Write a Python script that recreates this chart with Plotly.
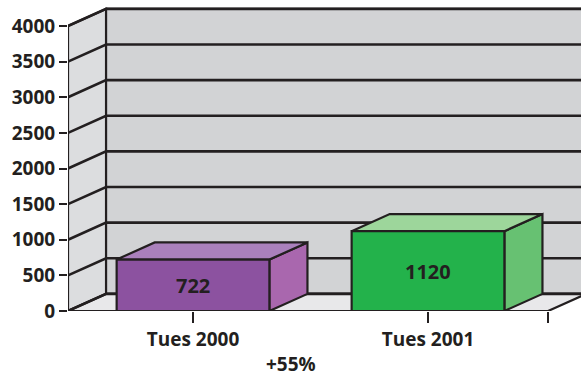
import plotly.graph_objects as go

# --- data ---
categories = ["Tues 2000", "Tues 2001"]
values = [722, 1120]
value_labels = ["722", "1120"]
y_ticks = [0, 500, 1000, 1500, 2000, 2500, 3000, 3500, 4000]
growth_label = "+55%"

# --- styling / geometry ---
INK = "#231f20"
FONT = "Open Sans"
face_colors = [
    {"front": "#8c52a0", "top": "#aa80bc", "side": "#a967ae"},
    {"front": "#23b24b", "top": "#9dd69b", "side": "#67c172"},
]
WALL_LEFT = "#dcdddf"
WALL_BACK = "#d2d3d5"
FLOOR = "#e8e8ea"

W, H = 581, 379
ML, MR, MT, MB = 68, 0, 0, 68
X_LEFT, X_RIGHT = -0.532, 1.511      # front floor edge, in category units
X_RANGE = [X_LEFT, 1.651]
Y_RANGE = [0, 4365]
Y_MAX = y_ticks[-1]
DX, DY = 0.162, 240                  # perspective depth offset (x units, value units)
BAR_W = 0.65

fig = go.Figure()


def poly(xs, ys, fill=None, width=2.2):
    fig.add_trace(go.Scatter(
        x=xs, y=ys, mode="lines",
        fill="toself" if fill else None,
        fillcolor=fill,
        line=dict(color=INK, width=width),
        hoverinfo="skip", showlegend=False,
    ))


# walls and floor
poly([X_LEFT, X_LEFT, X_LEFT + DX, X_LEFT + DX, X_LEFT],
     [0, Y_MAX, Y_MAX + DY, DY, 0], WALL_LEFT)
poly([X_LEFT + DX, X_RIGHT + DX, X_RIGHT + DX, X_LEFT + DX, X_LEFT + DX],
     [DY, DY, Y_MAX + DY, Y_MAX + DY, DY], WALL_BACK)
poly([X_LEFT, X_RIGHT, X_RIGHT + DX, X_LEFT + DX, X_LEFT],
     [0, 0, DY, DY, 0], FLOOR)

# gridlines running across the side wall and the back wall
for v in y_ticks:
    poly([X_LEFT, X_LEFT + DX, X_RIGHT + DX], [v, v + DY, v + DY], width=2.6)

# bars as boxes: side, top, then front face
for i, (v, c) in enumerate(zip(values, face_colors)):
    x0, x1 = i - BAR_W / 2, i + BAR_W / 2
    poly([x1, x1 + DX, x1 + DX, x1, x1], [0, DY, v + DY, v, 0], c["side"])
    poly([x0, x1, x1 + DX, x0 + DX, x0], [v, v, v + DY, v + DY, v], c["top"])
    poly([x0, x1, x1, x0, x0], [0, 0, v, v, 0], c["front"])
    fig.add_annotation(x=i, y=v / 2, text=value_labels[i], showarrow=False,
                       yanchor="middle",
                       font=dict(family=FONT, size=20, color=INK, weight=700))

# growth note under the axis, kept fully inside the page
plot_h = H - MT - MB
fig.add_annotation(xref="paper", yref="paper", x=(291 - ML) / (W - ML - MR),
                   y=-(H - 1 - MT - plot_h) / plot_h, yanchor="bottom",
                   xanchor="center", borderpad=0,
                   text=growth_label, showarrow=False,
                   font=dict(family=FONT, size=19, color=INK, weight=700))

tick_font = dict(family=FONT, size=19, color=INK, weight=700)
fig.update_layout(
    width=W, height=H,
    margin=dict(l=ML, r=MR, t=MT, b=MB, pad=0),
    paper_bgcolor="white", plot_bgcolor="white",
    xaxis=dict(range=X_RANGE, showgrid=False, zeroline=False, showline=False,
               tickvals=[0, 1, X_RIGHT], ticktext=categories + [""],
               ticks="outside", ticklen=11, tickwidth=2, tickcolor=INK,
               tickfont=tick_font),
    yaxis=dict(range=Y_RANGE, showgrid=False, zeroline=False, showline=False,
               tickvals=y_ticks, ticks="outside", ticklen=8, tickwidth=2,
               tickcolor=INK, tickfont=tick_font),
)

fig.write_html("out.html")
